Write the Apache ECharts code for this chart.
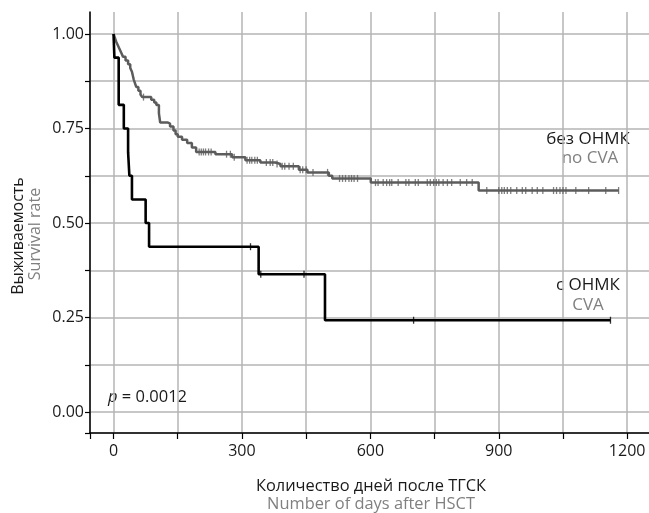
<!DOCTYPE html>
<html>
<head>
<meta charset="utf-8">
<script src="https://cdn.jsdelivr.net/npm/echarts@6/dist/echarts.min.js"></script>
<style>
  html, body { margin: 0; padding: 0; background: #fff; }
  #chart { width: 649px; height: 513px; }
</style>
</head>
<body>
<div id="chart"></div>
<script>
// no CVA group (без ОНМК): step times (days) and survival after each step
const noCvaTimes = [0, 3, 6, 10, 14, 18, 22, 28, 34, 39, 43, 47, 50, 53, 58, 63, 67, 88, 95, 100, 106, 109,
  126, 132, 140, 145, 150, 160, 172, 183, 193, 238, 277, 308, 343, 378, 390, 433, 453, 503, 511, 601, 853, 1180]
const noCvaSurv = [1.0, 0.99, 0.98, 0.97, 0.96, 0.95, 0.94, 0.93, 0.92, 0.91, 0.90, 0.88, 0.87, 0.86, 0.85, 0.84, 0.833,
  0.826, 0.819, 0.812, 0.79, 0.766, 0.763, 0.755, 0.745, 0.735, 0.728, 0.72, 0.712, 0.70, 0.688, 0.682, 0.674, 0.666,
  0.66, 0.656, 0.65, 0.641, 0.634, 0.625, 0.618, 0.607, 0.586, 0.586]
const noCvaCensored = [70, 200, 205, 210, 215, 222, 228, 264, 273, 282, 312, 318, 323, 330, 336, 357, 366, 372, 382,
  394, 400, 410, 420, 436, 442, 450, 466, 500, 528, 535, 542, 550, 556, 562, 570, 612, 618, 630, 638, 645, 650, 665,
  683, 690, 705, 712, 733, 740, 748, 754, 760, 770, 780, 790, 810, 825, 838, 872, 900, 907, 913, 920, 928, 942, 955,
  963, 978, 990, 1003, 1028, 1035, 1043, 1050, 1057, 1080, 1110, 1150, 1180]

// CVA group (с ОНМК)
const cvaTimes = [0, 2, 12, 24, 34, 37, 43, 75, 83, 339, 494, 1161]
const cvaSurv = [1.0, 0.9375, 0.8125, 0.75, 0.6875, 0.625, 0.5625, 0.5, 0.4375, 0.3646, 0.2431, 0.2431]
const cvaCensored = [320, 344, 445, 701, 1161]

// axis ticks
const xTicks = [-55, 0, 150, 300, 450, 600, 750, 900, 1050, 1200]
const xLabels = [0, 300, 600, 900, 1200]
const yTicks = [-0.055, 0, 0.125, 0.25, 0.375, 0.5, 0.625, 0.75, 0.875, 1.0]
const yLabels = [0, 0.25, 0.5, 0.75, 1.0]

const FONT = '"Open Sans", "Noto Sans", sans-serif'

function stepPoints(times, surv) {
  return times.map((t, i) => [t, surv[i]])
}
function censorPoints(censored, times, surv) {
  return censored.map(c => {
    let s = surv[0]
    for (let i = 0; i < times.length; i++) {
      if (times[i] <= c) s = surv[i]
    }
    return [c, s]
  })
}

let myChart = echarts.init(document.getElementById('chart'))

let option = {
  animation: false,
  backgroundColor: '#fff',
  grid: { left: 90, right: 0, top: 12, bottom: 80, outerBoundsMode: 'none' },
  xAxis: {
    type: 'value',
    min: -55,
    max: 1251,
    axisLine: { show: true, onZero: false, lineStyle: { color: '#000', width: 1.5 } },
    axisTick: { show: true, length: 6, customValues: xTicks, lineStyle: { color: '#000', width: 1.2 } },
    axisLabel: {
      customValues: xLabels, margin: 10, color: '#1a1a1a', fontSize: 16, fontFamily: FONT,
      formatter: v => String(v)
    },
    splitLine: { show: true, lineStyle: { color: '#b4b4b4', width: 1.5 } }
  },
  yAxis: {
    type: 'value',
    min: -0.055,
    max: 1.058,
    axisLine: { show: true, onZero: false, lineStyle: { color: '#000', width: 1.5 } },
    axisTick: { show: true, length: 5, customValues: yTicks, lineStyle: { color: '#000', width: 1.2 } },
    axisLabel: {
      customValues: yLabels, margin: 6, color: '#1a1a1a', fontSize: 16, fontFamily: FONT,
      formatter: v => v.toFixed(2)
    },
    splitLine: { show: true, lineStyle: { color: '#b4b4b4', width: 1.5 } }
  },
  series: [
    {
      type: 'line', step: 'end', showSymbol: false, silent: true,
      data: stepPoints(noCvaTimes, noCvaSurv),
      lineStyle: { color: '#5c5c5c', width: 2.5 }
    },
    {
      type: 'scatter', silent: true, symbol: 'rect', symbolSize: [1.3, 7],
      data: censorPoints(noCvaCensored, noCvaTimes, noCvaSurv),
      itemStyle: { color: '#5c5c5c' }
    },
    {
      type: 'line', step: 'end', showSymbol: false, silent: true,
      data: stepPoints(cvaTimes, cvaSurv),
      lineStyle: { color: '#000', width: 2.6 }
    },
    {
      type: 'scatter', silent: true, symbol: 'rect', symbolSize: [1.3, 7],
      data: censorPoints(cvaCensored, cvaTimes, cvaSurv),
      itemStyle: { color: '#000' }
    }
  ],
  graphic: [
    { type: 'text', x: 588, y: 139, style: { text: 'без ОНМК', fill: '#1a1a1a', font: '17px ' + FONT, align: 'center', verticalAlign: 'middle' } },
    { type: 'text', x: 590, y: 158, style: { text: 'no CVA', fill: '#808080', font: '17px ' + FONT, align: 'center', verticalAlign: 'middle' } },
    { type: 'text', x: 588, y: 285, style: { text: 'с ОНМК', fill: '#1a1a1a', font: '17px ' + FONT, align: 'center', verticalAlign: 'middle' } },
    { type: 'text', x: 588, y: 305, style: { text: 'CVA', fill: '#808080', font: '17px ' + FONT, align: 'center', verticalAlign: 'middle' } },
    {
      type: 'text', x: 108, y: 397,
      style: {
        text: '{i|p} = 0.0012', fill: '#1a1a1a', font: '16.5px ' + FONT, verticalAlign: 'middle',
        rich: { i: { fontStyle: 'italic', fontSize: 16.5, fontFamily: FONT, fill: '#1a1a1a' } }
      }
    },
    { type: 'text', x: 371, y: 486, style: { text: 'Количество дней после ТГСК', fill: '#1a1a1a', font: '16.4px ' + FONT, align: 'center', verticalAlign: 'middle' } },
    { type: 'text', x: 371, y: 504, style: { text: 'Number of days after HSCT', fill: '#808080', font: '16.4px ' + FONT, align: 'center', verticalAlign: 'middle' } },
    { type: 'text', x: 18, y: 236, rotation: Math.PI / 2, style: { text: 'Выживаемость', fill: '#1a1a1a', font: '16px ' + FONT, align: 'center', verticalAlign: 'middle' } },
    { type: 'text', x: 35, y: 234, rotation: Math.PI / 2, style: { text: 'Survival rate', fill: '#808080', font: '16px ' + FONT, align: 'center', verticalAlign: 'middle' } }
  ]
}

myChart.setOption(option)
</script>
</body>
</html>
